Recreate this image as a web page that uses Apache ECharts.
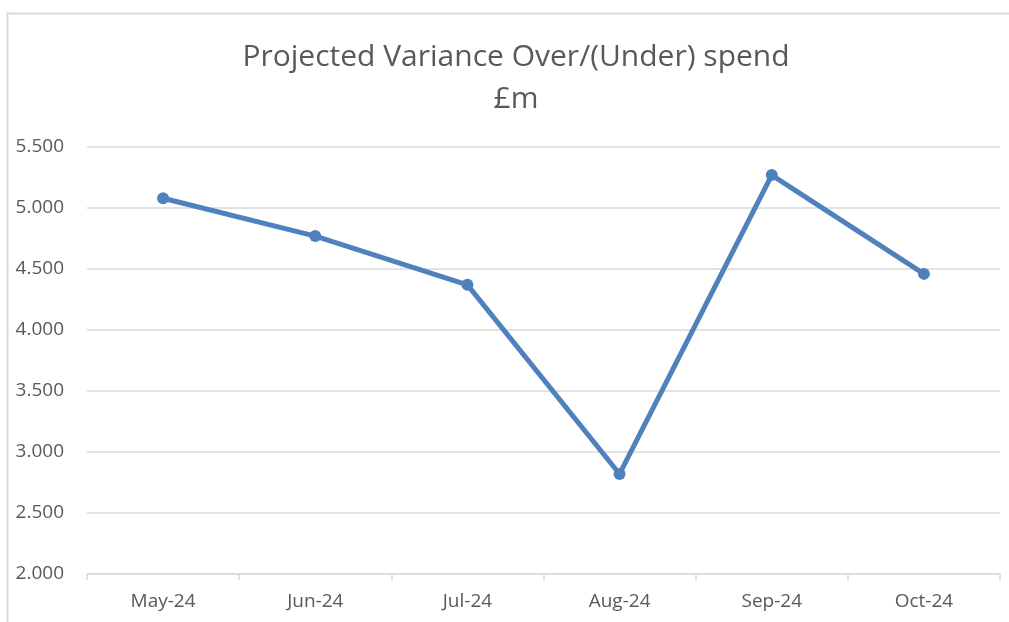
<!DOCTYPE html>
<html><head><meta charset="utf-8">
<script src="https://cdn.jsdelivr.net/npm/echarts@6/dist/echarts.min.js"></script>
<style>html,body{margin:0;padding:0;background:#fff}#c{width:1009px;height:622px}</style>
</head><body><div id="c"></div>
<script>
const categories = ['May-24','Jun-24','Jul-24','Aug-24','Sep-24','Oct-24'];
const values = [5.08, 4.77, 4.37, 2.82, 5.27, 4.46];
const titleLines = ['Projected Variance Over/(Under) spend', '£m'];
const chart = echarts.init(document.getElementById('c'));
const font = '"Open Sans", "Noto Sans", sans-serif';
chart.setOption({
  animation: false,
  backgroundColor: '#fff',
  graphic: [{type:'rect', shape:{x:7.5,y:13.5,width:1010,height:700}, style:{fill:'none', stroke:'#d9d9d9', lineWidth:2}, silent:true}],
  title: {
    text: titleLines.join('\n'), left: 511, textAlign: 'center', top: 31,
    textStyle: {fontFamily: font, fontSize: 30, fontWeight: 'normal', color: '#595959', lineHeight: 42}
  },
  grid: {left: 87, right: 9, top: 147, bottom: 48, containLabel: false},
  xAxis: {
    type: 'category', data: categories, boundaryGap: true,
    axisLine: {lineStyle: {color: '#d9d9d9', width: 1.5}},
    axisTick: {show: true, length: 6, lineStyle: {color: '#d9d9d9', width: 1.5}},
    axisLabel: {fontFamily: font, fontSize: 19, color: '#595959', margin: 18}
  },
  yAxis: {
    type: 'value', min: 2, max: 5.5, interval: 0.5,
    axisLine: {show: false}, axisTick: {show: false},
    splitLine: {lineStyle: {color: '#d9d9d9', width: 1.5}},
    axisLabel: {fontFamily: font, fontSize: 19, color: '#595959', margin: 23,
      formatter: v => v.toFixed(3)}
  },
  series: [{
    type: 'line', data: values, symbol: 'circle', symbolSize: 12,
    lineStyle: {color: '#4f81bd', width: 5}, itemStyle: {color: '#4f81bd'}
  }]
});
</script></body></html>
